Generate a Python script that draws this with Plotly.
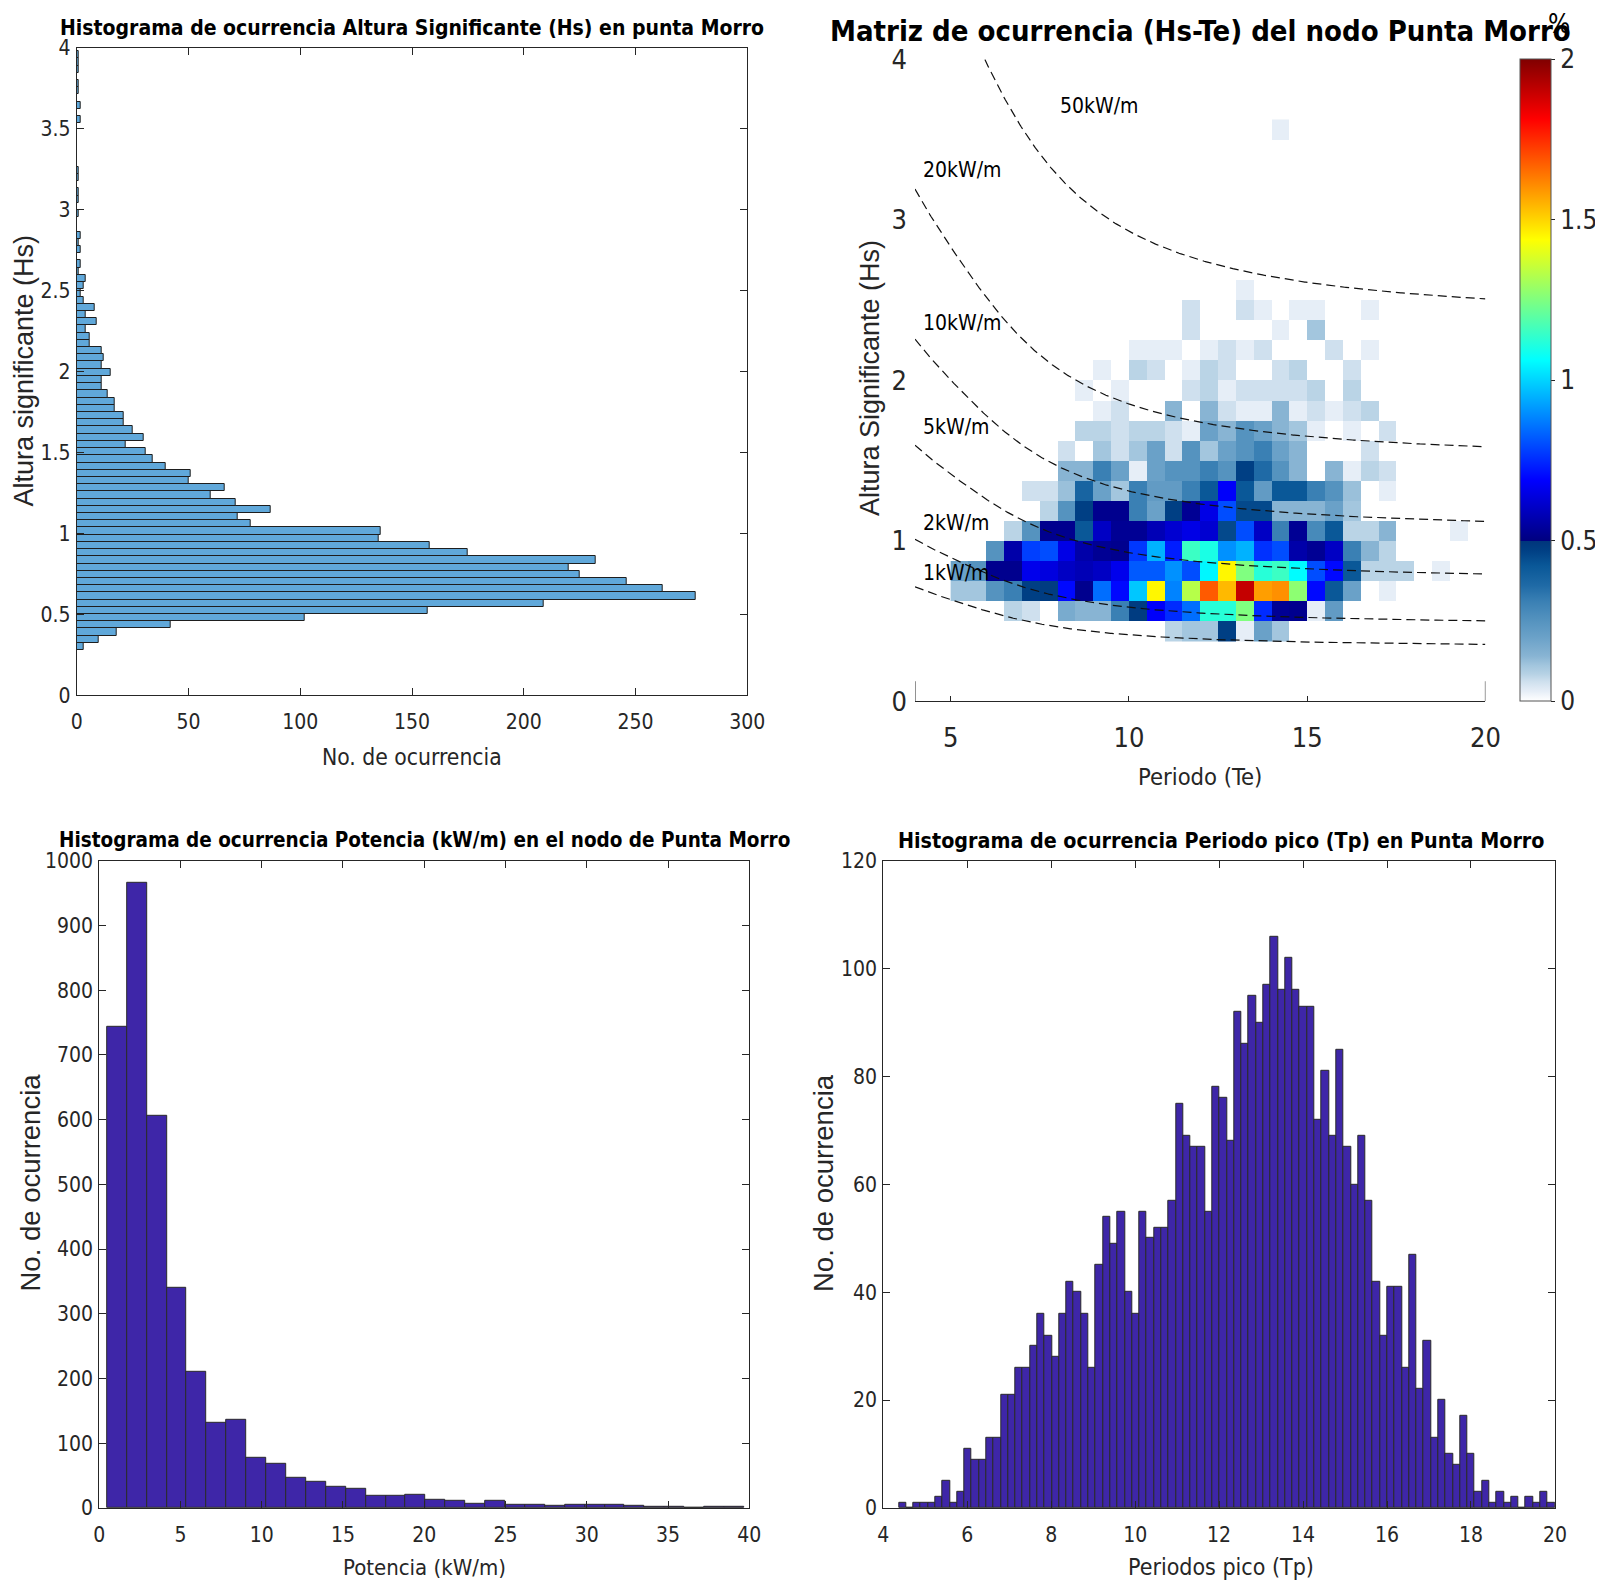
import numpy as np
import plotly.graph_objects as go

OFF = 8  # default page body margin
FW, FH = 1603 - OFF, 1584 - OFF
NARROW = "DejaVu Sans Condensed, Liberation Sans Narrow, Arial Narrow, sans-serif"
REG = "Liberation Sans, Arial, sans-serif"
TXT = "#262626"


def fx(px):
    return (px - OFF) / FW


def fy(py):
    return 1 - (py - OFF) / FH


# ---------------- data ----------------
# Hs histogram (horizontal bars)
hs_bin_start = 0.2785
hs_bin_width = 0.0446
hs_counts = [3, 10, 18, 42, 102, 157, 209, 277, 262, 246, 225, 220, 232, 175, 158, 135, 136,
             78, 72, 87, 71, 60, 66, 50, 51, 40, 34, 31, 22, 30, 25, 21, 21, 17, 17, 14, 11, 11, 15, 11, 12, 11,
             6, 6, 4, 9, 4, 8, 3, 2, 3, 4, 1, 2, 0, 2, 1, 2, 0, 0, 1, 0, 1, 1, 0, 1, 1,
             0, 0, 0, 0, 0, 0, 2, 0, 2, 0, 1, 1, 0, 1, 1, 1]

# Power histogram
p_bin_start = 0.48
p_bin_width = 1.225
p_counts = [744, 966, 606, 340, 210, 131, 136, 77, 68, 46, 40, 33, 30, 18, 18, 20,
            13, 11, 7, 11, 5, 5, 3, 5, 5, 5, 3, 2, 1, 0, 2, 1]

# Peak period histogram
tp_bin_start = 4.37
tp_bin_width = 0.17367
tp_counts = [1, 0, 1, 1, 1, 2, 5, 1, 3, 11, 9, 9, 13, 13, 21, 21, 26, 26, 30, 36,
             32, 28, 36, 42, 40, 36, 26, 45, 54, 49, 55, 40, 36, 55, 50, 52, 52, 57, 75, 69,
             67, 67, 55, 78, 76, 68, 92, 86, 95, 90, 97, 106, 96, 102, 96, 93, 93, 72, 81, 69,
             85, 67, 60, 69, 57, 42, 32, 41, 41, 26, 47, 22, 31, 13, 20, 10, 8, 17, 10, 3,
             5, 1, 3, 1, 2, 0, 2, 1, 3, 1]

# Occurrence matrix (%): columns Te bins of 0.5 s starting at 5.0, rows Hs bins of 0.125 m starting at 0.375
te_edges_start = 5.0
te_bin = 0.5
hs_edges_start = 0.375
hs_bin = 0.125
Z0 = [0] * 30
occ_pct = [
    [0, 0, 0, 0, 0, 0, 0, 0, 0, 0, 0, 0, 0.08, 0.11, 0.11, 0.47, 0.03, 0.2, 0.11, 0, 0, 0, 0, 0, 0, 0, 0, 0, 0, 0],
    [0, 0, 0, 0.08, 0.06, 0, 0.17, 0.14, 0.14, 0.31, 0.48, 0.68, 0.75, 0.85, 1.12, 1.12, 1.25, 0.75, 0.53, 0.52, 0.03, 0.22, 0, 0, 0, 0, 0, 0, 0, 0],
    [0.11, 0.11, 0.25, 0.31, 0.47, 0.48, 0.7, 0.52, 0.85, 0.7, 0.98, 1.45, 0.88, 1.33, 1.68, 1.54, 1.9, 1.58, 1.6, 1.27, 0.7, 0.42, 0.2, 0, 0.03, 0, 0, 0, 0, 0],
    [0.2, 0.25, 0.52, 0.52, 0.66, 0.64, 0.6, 0.58, 0.6, 0.66, 0.82, 0.82, 0.9, 0.8, 1.05, 1.45, 1.25, 1.12, 1.15, 1.06, 0.8, 0.7, 0.42, 0.08, 0.08, 0.08, 0, 0.03, 0, 0],
    [0, 0, 0.25, 0.56, 0.78, 0.8, 0.65, 0.56, 0.53, 0.52, 0.77, 0.95, 0.73, 1.15, 1.1, 0.9, 0.95, 0.76, 0.8, 0.56, 0.53, 0.6, 0.31, 0.14, 0.08, 0, 0, 0, 0, 0],
    [0, 0, 0, 0.08, 0.25, 0.52, 0.52, 0.42, 0.6, 0.53, 0.53, 0.58, 0.62, 0.65, 0.62, 0.45, 0.8, 0.6, 0.31, 0.53, 0.28, 0.42, 0.08, 0.08, 0.14, 0, 0, 0, 0.03, 0],
    [0, 0, 0, 0, 0, 0.08, 0.25, 0.47, 0.52, 0.52, 0.31, 0.2, 0.47, 0.53, 0.65, 0.8, 0.45, 0.45, 0.14, 0.14, 0.14, 0.2, 0.11, 0, 0, 0, 0, 0, 0, 0],
    [0, 0, 0, 0, 0.06, 0.06, 0.12, 0.38, 0.2, 0.11, 0.31, 0.22, 0.22, 0.31, 0.42, 0.68, 0.42, 0.22, 0.42, 0.42, 0.31, 0.25, 0.12, 0, 0.03, 0, 0, 0, 0, 0],
    [0, 0, 0, 0, 0, 0, 0.14, 0.14, 0.31, 0.2, 0.03, 0.2, 0.25, 0.25, 0.31, 0.25, 0.47, 0.36, 0.25, 0.14, 0, 0.14, 0.03, 0.08, 0.06, 0, 0, 0, 0, 0],
    [0, 0, 0, 0, 0, 0, 0.06, 0, 0.11, 0.06, 0.11, 0.2, 0.06, 0.25, 0.11, 0.2, 0.25, 0.31, 0.2, 0.14, 0, 0, 0, 0.06, 0, 0, 0, 0, 0, 0],
    [0, 0, 0, 0, 0, 0, 0, 0.08, 0.08, 0.06, 0.08, 0.08, 0.06, 0.03, 0.2, 0.14, 0.25, 0.2, 0.14, 0.11, 0.03, 0, 0.03, 0, 0.06, 0, 0, 0, 0, 0],
    [0, 0, 0, 0, 0, 0, 0, 0, 0.03, 0.06, 0, 0, 0.14, 0, 0.14, 0.06, 0.03, 0.03, 0.14, 0.03, 0.06, 0.03, 0.06, 0.08, 0, 0, 0, 0, 0, 0],
    [0, 0, 0, 0, 0, 0, 0, 0.03, 0, 0.03, 0, 0, 0, 0.06, 0.08, 0.03, 0.06, 0.06, 0.06, 0.06, 0.08, 0, 0.08, 0, 0, 0, 0, 0, 0, 0],
    [0, 0, 0, 0, 0, 0, 0, 0, 0.03, 0, 0.08, 0.06, 0, 0.03, 0.08, 0.06, 0, 0, 0.06, 0.08, 0, 0, 0.06, 0, 0, 0, 0, 0, 0, 0],
    [0, 0, 0, 0, 0, 0, 0, 0, 0, 0, 0.03, 0.03, 0.03, 0, 0.03, 0.06, 0.03, 0.06, 0, 0, 0, 0.06, 0, 0.03, 0, 0, 0, 0, 0, 0],
    [0, 0, 0, 0, 0, 0, 0, 0, 0, 0, 0, 0, 0, 0.06, 0, 0, 0, 0, 0.03, 0, 0.11, 0, 0, 0, 0, 0, 0, 0, 0, 0],
    [0, 0, 0, 0, 0, 0, 0, 0, 0, 0, 0, 0, 0, 0.06, 0, 0, 0.06, 0.03, 0, 0.03, 0.03, 0, 0, 0.03, 0, 0, 0, 0, 0, 0],
    [0, 0, 0, 0, 0, 0, 0, 0, 0, 0, 0, 0, 0, 0, 0, 0, 0.03, 0, 0, 0, 0, 0, 0, 0, 0, 0, 0, 0, 0, 0],
    Z0, Z0, Z0, Z0, Z0, Z0, Z0,
    [0, 0, 0, 0, 0, 0, 0, 0, 0, 0, 0, 0, 0, 0, 0, 0, 0, 0, 0.03, 0, 0, 0, 0, 0, 0, 0, 0, 0, 0, 0],
]

# iso-power levels (kW/m), label anchor positions (Te, Hs)
power_levels = [1, 2, 5, 10, 20, 50]
power_labels = ["1kW/m", "2kW/m", "5kW/m", "10kW/m", "20kW/m", "50kW/m"]
label_te = [4.17, 4.17, 4.17, 4.17, 4.17, 8.0]
label_hs = [0.80, 1.11, 1.71, 2.36, 3.31, 3.71]
water_depth = 20.0

# ---------------- derived ----------------
hs_centers = [hs_bin_start + hs_bin_width * (i + 0.5) for i in range(len(hs_counts))]
p_centers = [p_bin_start + p_bin_width * (i + 0.5) for i in range(len(p_counts))]
tp_centers = [tp_bin_start + tp_bin_width * (i + 0.5) for i in range(len(tp_counts))]
te_centers = [te_edges_start + te_bin * (j + 0.5) for j in range(30)]
hs_rows = [hs_edges_start + hs_bin * (i + 0.5) for i in range(len(occ_pct))]


def group_velocity_ratio(T, h):
    g = 9.81
    w = 2 * np.pi / T
    y = w ** 2 * h / g
    x = np.where(y > 1, y, np.sqrt(y))
    for _ in range(50):
        t = np.tanh(x)
        x = x - (x * t - y) / (t + x * (1 - t ** 2))
    return np.tanh(x) * (1 + 2 * x / np.sinh(2 * x))


te_line = np.linspace(4, 20, 500)
ratio = group_velocity_ratio(te_line, water_depth)

fig = go.Figure()

# top-left horizontal histogram
fig.add_trace(go.Bar(x=hs_counts, y=hs_centers, orientation="h", width=hs_bin_width,
                     marker=dict(color="#60a8da", line=dict(color="#1e1e1e", width=1)),
                     xaxis="x", yaxis="y", showlegend=False))

# top-right occurrence matrix
colorscale = [
    [0.0, "#ffffff"], [0.015, "#e6eef7"], [0.03, "#cfe0ee"], [0.0425, "#b5d1e4"],
    [0.055, "#a3c6de"], [0.07, "#88b4d3"], [0.1, "#6aa1c8"], [0.125, "#5593bf"],
    [0.155, "#3a80b4"], [0.18, "#1f6aa6"], [0.21, "#0a5898"], [0.235, "#003f84"],
    [0.2495, "#00357c"], [0.25, "#000080"], [0.34375, "#0000ff"], [0.53125, "#00ffff"],
    [0.71875, "#ffff00"], [0.90625, "#ff0000"], [1.0, "#800000"],
]
fig.add_trace(go.Heatmap(x=te_centers, y=hs_rows, z=occ_pct, zmin=0, zmax=2,
                         colorscale=colorscale, xaxis="x2", yaxis="y2", hoverongaps=False,
                         colorbar=dict(x=fx(1520), xanchor="left", y=fy((59.3 + 701.3) / 2),
                                       yanchor="middle", lenmode="pixels", len=642,
                                       thicknessmode="pixels", thickness=31, xpad=0, ypad=0,
                                       outlinecolor="#555", outlinewidth=1,
                                       tickvals=[0, 0.5, 1, 1.5, 2], ticktext=["0", "0.5", "1", "1.5", "2"],
                                       ticks="outside", ticklen=4, tickcolor=TXT,
                                       tickfont=dict(family=NARROW, size=26, color=TXT))))

for lvl in power_levels:
    hs_line = np.sqrt(lvl / (0.4906 * ratio * te_line))
    fig.add_trace(go.Scatter(x=te_line, y=hs_line, mode="lines",
                             line=dict(color="#111111", width=1.2, dash="9px,5px"),
                             xaxis="x2", yaxis="y2", showlegend=False, hoverinfo="skip"))

# bottom-left histogram
fig.add_trace(go.Bar(x=p_centers, y=p_counts, width=p_bin_width,
                     marker=dict(color="#3e26a8", line=dict(color="#2a2a2a", width=1)),
                     xaxis="x3", yaxis="y3", showlegend=False))

# bottom-right histogram
fig.add_trace(go.Bar(x=tp_centers, y=tp_counts, width=tp_bin_width,
                     marker=dict(color="#3e26a8", line=dict(color="#2a2a2a", width=1)),
                     xaxis="x4", yaxis="y4", showlegend=False))

box = dict(showline=True, linecolor=TXT, linewidth=1, mirror="ticks", ticks="inside",
           ticklen=7, tickcolor=TXT, showgrid=False, zeroline=False, automargin=False)
tf = dict(family=NARROW, size=21, color=TXT)

fig.update_layout(
    width=FW, height=FH, margin=dict(l=0, r=0, t=0, b=0, autoexpand=False),
    paper_bgcolor="white", plot_bgcolor="white", bargap=0, showlegend=False,
    xaxis=dict(domain=[fx(76.7), fx(747.3)], range=[0, 300], dtick=50, anchor="y",
               tickfont=tf, ticklabelstandoff=8, **box),
    yaxis=dict(domain=[fy(695.2), fy(48)], range=[0, 4], dtick=0.5, anchor="x",
               tickfont=tf, ticklabelstandoff=1, **box),
    xaxis2=dict(domain=[fx(915), fx(1485.4)], range=[4, 20], tickvals=[5, 10, 15, 20], anchor="y2",
                showline=True, linecolor=TXT, linewidth=1, ticks="inside", ticklen=5, tickcolor=TXT,
                showgrid=False, zeroline=False, ticklabelstandoff=12, automargin=False,
                tickfont=dict(family=NARROW, size=27, color=TXT)),
    yaxis2=dict(domain=[fy(701.3), fy(59.3)], range=[0, 4], tickvals=[0, 1, 2, 3, 4], anchor="x2",
                showline=False, ticks="", showgrid=False, zeroline=False, ticklabelstandoff=7,
                automargin=False, tickfont=dict(family=NARROW, size=27, color=TXT)),
    xaxis3=dict(domain=[fx(99.2), fx(749.3)], range=[0, 40], dtick=5, anchor="y3",
                tickfont=tf, ticklabelstandoff=8, **box),
    yaxis3=dict(domain=[fy(1507.9), fy(860.8)], range=[0, 1000], dtick=100, anchor="x3",
                tickfont=tf, ticklabelstandoff=1, **box),
    xaxis4=dict(domain=[fx(883.3), fx(1554.9)], range=[4, 20], dtick=2, anchor="y4",
                tickfont=tf, ticklabelstandoff=8, **box),
    yaxis4=dict(domain=[fy(1507.9), fy(860.8)], range=[0, 120], dtick=20, anchor="x4",
                tickfont=tf, ticklabelstandoff=1, **box),
)

# small axis stubs of the matrix panel (box sides below first row)
for xe in (4, 20):
    fig.add_shape(type="line", xref="x2", yref="y2", x0=xe, x1=xe, y0=0, y1=0.125,
                  line=dict(color=TXT, width=1))


def ann(text, x, y, size, family=NARROW, bold=False, angle=0, color="black", xanchor="center"):
    fig.add_annotation(text=f"<b>{text}</b>" if bold else text, x=fx(x), y=fy(y),
                       xref="paper", yref="paper", showarrow=False, textangle=angle,
                       xanchor=xanchor, yanchor="middle",
                       font=dict(family=family, size=size, color=color))


ann("Histograma de ocurrencia Altura Significante (Hs) en punta Morro", 412, 27.6, 21, bold=True)
ann("Matriz de ocurrencia (Hs-Te) del nodo Punta Morro", 1200, 30.7, 29, bold=True)
ann("Histograma de ocurrencia Potencia (kW/m) en el nodo de Punta Morro", 424, 840, 20.5, bold=True)
ann("Histograma de ocurrencia Periodo pico (Tp) en Punta Morro", 1221, 840, 21.3, bold=True)

ann("No. de ocurrencia", 412, 756.5, 22.7, color=TXT)
ann("Altura significante (Hs)", 23.5, 371, 27, family=REG, angle=-90, color=TXT)
ann("Altura Significante (Hs)", 870, 378, 27, family=REG, angle=-90, color=TXT)
ann("Periodo (Te)", 1200, 777, 23.6, color=TXT)
ann("No. de ocurrencia", 29.5, 1183, 27.5, family=REG, angle=-90, color=TXT)
ann("Potencia (kW/m)", 424, 1567, 22, color=TXT)
ann("No. de ocurrencia", 823, 1183, 27.5, family=REG, angle=-90, color=TXT)
ann("Periodos pico (Tp)", 1221, 1567, 23, color=TXT)
ann("%", 1559, 24, 26, color="black")

for txt, xt, yh in zip(power_labels, label_te, label_hs):
    fig.add_annotation(text=txt, x=xt, y=yh, xref="x2", yref="y2", showarrow=False,
                       xanchor="left", yanchor="middle",
                       font=dict(family=NARROW, size=21, color="black"))

fig.write_html("out.html")
